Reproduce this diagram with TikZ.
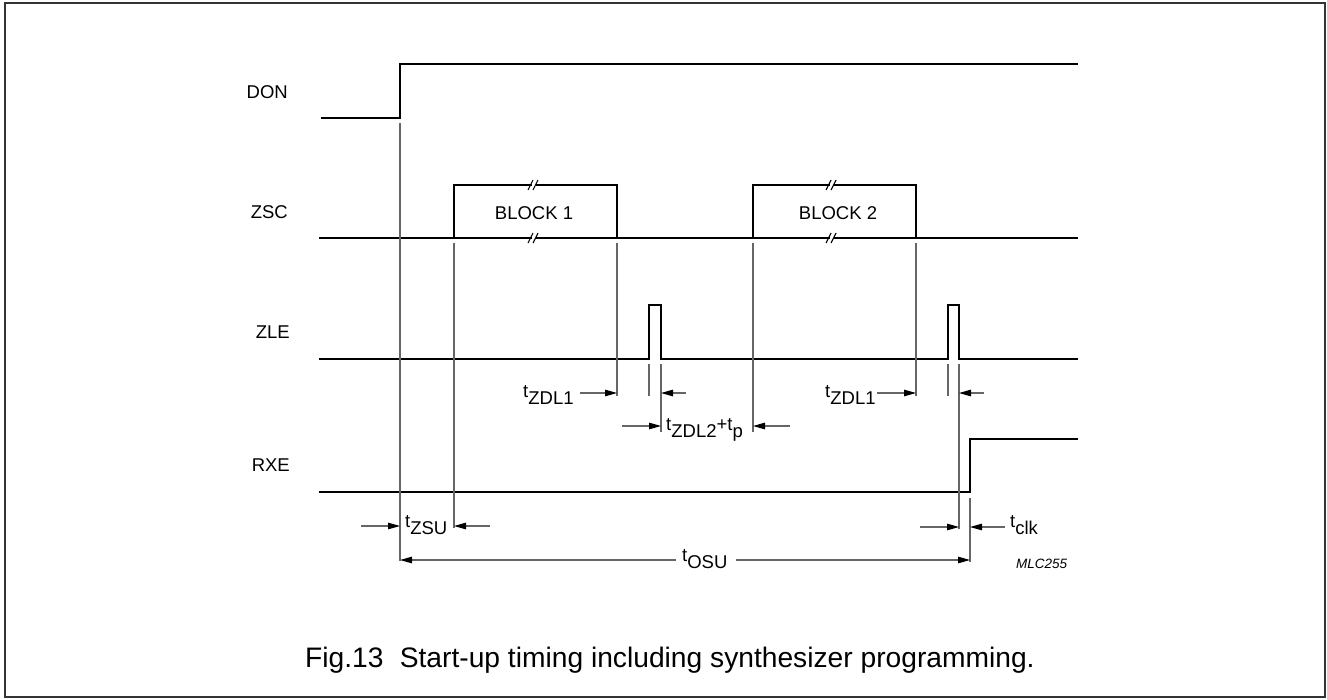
\documentclass[tikz,border=0pt]{standalone}
\usepackage{fontspec}
\setmainfont{Liberation Sans}
\usetikzlibrary{arrows.meta}
\newcommand\tlow[1]{\raisebox{-7.5pt}{#1}}
\tikzset{
  sig/.style={line width=2.6pt, line join=miter},
  guide/.style={line width=1.1pt, black!60},
  dimarrow/.style={line width=1.1pt, black!60, -{Triangle[length=12pt,width=6.5pt,color=black]}},
  brk/.style={line width=1.1pt, black},
  lab/.style={inner sep=0pt, font=\fontsize{18.5}{21}\selectfont},
  tlab/.style={inner sep=0pt, anchor=base west, font=\fontsize{18.5}{21}\selectfont},
}
\begin{document}
\begin{tikzpicture}[x=1pt,y=-1pt]
\useasboundingbox (0,0) rectangle (1327,699);
\draw[line width=1.2pt, black!80] (5,3) rectangle (1325,697);

% signal labels
\node[lab, anchor=east] (lDON) at (288,92) {DON};
\node[lab, anchor=east] (lZSC) at (288,212) {ZSC};
\node[lab, anchor=east] (lZLE) at (290,332) {ZLE};
\node[lab, anchor=east] (lRXE) at (290,465) {RXE};

% waveforms
\draw[sig] (321,118) -- (400,118) -- (400,64) -- (1078,64);
\draw[sig] (319,238) -- (1078,238);
\draw[sig] (454,238) -- (454,185) -- (617,185) -- (617,238);
\draw[sig] (753,238) -- (753,185) -- (916,185) -- (916,238);
\draw[sig] (319,359) -- (649,359) -- (649,305) -- (661,305) -- (661,359) -- (948,359) -- (948,305) -- (959,305) -- (959,359) -- (1078,359);
\draw[sig] (319,492) -- (970,492) -- (970,439) -- (1078,439);

\node[lab] (b1) at (534,213) {BLOCK 1};
\node[lab] (b2) at (838,213) {BLOCK 2};

% break marks
\foreach \bx/\by in {535/185, 535/238, 833/185, 833/238}{
  \fill[white] (\bx-3.5,\by-2) rectangle (\bx+0.5,\by+2);
  \draw[brk] (\bx-7,\by+5) -- (\bx-2,\by-5);
  \draw[brk] (\bx-2,\by+5) -- (\bx+3,\by-5);
}

% guide lines
\coordinate (g1a) at (400,123); \coordinate (g1b) at (400,561);
\coordinate (g2a) at (454,243); \coordinate (g2b) at (454,528);
\coordinate (g3a) at (617,243); \coordinate (g3b) at (617,396);
\coordinate (g4a) at (753,243); \coordinate (g4b) at (753,432);
\coordinate (g5a) at (916,243); \coordinate (g5b) at (916,396);
\coordinate (g6a) at (649,364); \coordinate (g6b) at (649,396);
\coordinate (g7a) at (661,364); \coordinate (g7b) at (661,432);
\coordinate (g8a) at (948,364); \coordinate (g8b) at (948,396);
\coordinate (g9a) at (959,364); \coordinate (g9b) at (959,529);
\coordinate (g10a) at (970,498); \coordinate (g10b) at (970,562);
\foreach \g in {1,...,10}{ \draw[guide] (g\g a) -- (g\g b); }

% dimension arrows
\coordinate (a1s) at (580,393); \coordinate (a1e) at (617,393);
\coordinate (a2s) at (686,393); \coordinate (a2e) at (661,393);
\coordinate (a3s) at (622,426); \coordinate (a3e) at (661,426);
\coordinate (a4s) at (790,426); \coordinate (a4e) at (753,426);
\coordinate (a5s) at (877,393); \coordinate (a5e) at (916,393);
\coordinate (a6s) at (984,393); \coordinate (a6e) at (959,393);
\coordinate (a7s) at (361,526); \coordinate (a7e) at (400,526);
\coordinate (a8s) at (490,526); \coordinate (a8e) at (454,526);
\coordinate (a9s) at (920,527); \coordinate (a9e) at (959,527);
\coordinate (a10s) at (1005,527); \coordinate (a10e) at (970,527);
\coordinate (a11s) at (676,560); \coordinate (a11e) at (400,560);
\coordinate (a12s) at (736,560); \coordinate (a12e) at (970,560);
\foreach \a in {1,...,12}{ \draw[dimarrow] (a\a s) -- (a\a e); }

% timing labels
\node[tlab] (tzdl1a) at (523,397) {t\tlow{ZDL1}};
\node[tlab] (tzdl2) at (666,430) {t\tlow{ZDL2}+t\tlow{p}};
\node[tlab] (tzdl1b) at (825,397) {t\tlow{ZDL1}};
\node[tlab] (tzsu) at (405,527) {t\tlow{ZSU}};
\node[tlab] (tclk) at (1010,527) {t\tlow{clk}};
\node[tlab] (tosu) at (682,561) {t\tlow{OSU}};

\node[inner sep=0pt, anchor=base west, font=\fontsize{13.5}{16}\selectfont\itshape] (mlc) at (1016,568) {MLC255};

\node[inner sep=0pt, anchor=base west, font=\fontsize{28.2}{32}\selectfont] (cap) at (305,667) {Fig.13\hspace{0.3em} Start-up timing including synthesizer programming.};
\end{tikzpicture}
\end{document}
